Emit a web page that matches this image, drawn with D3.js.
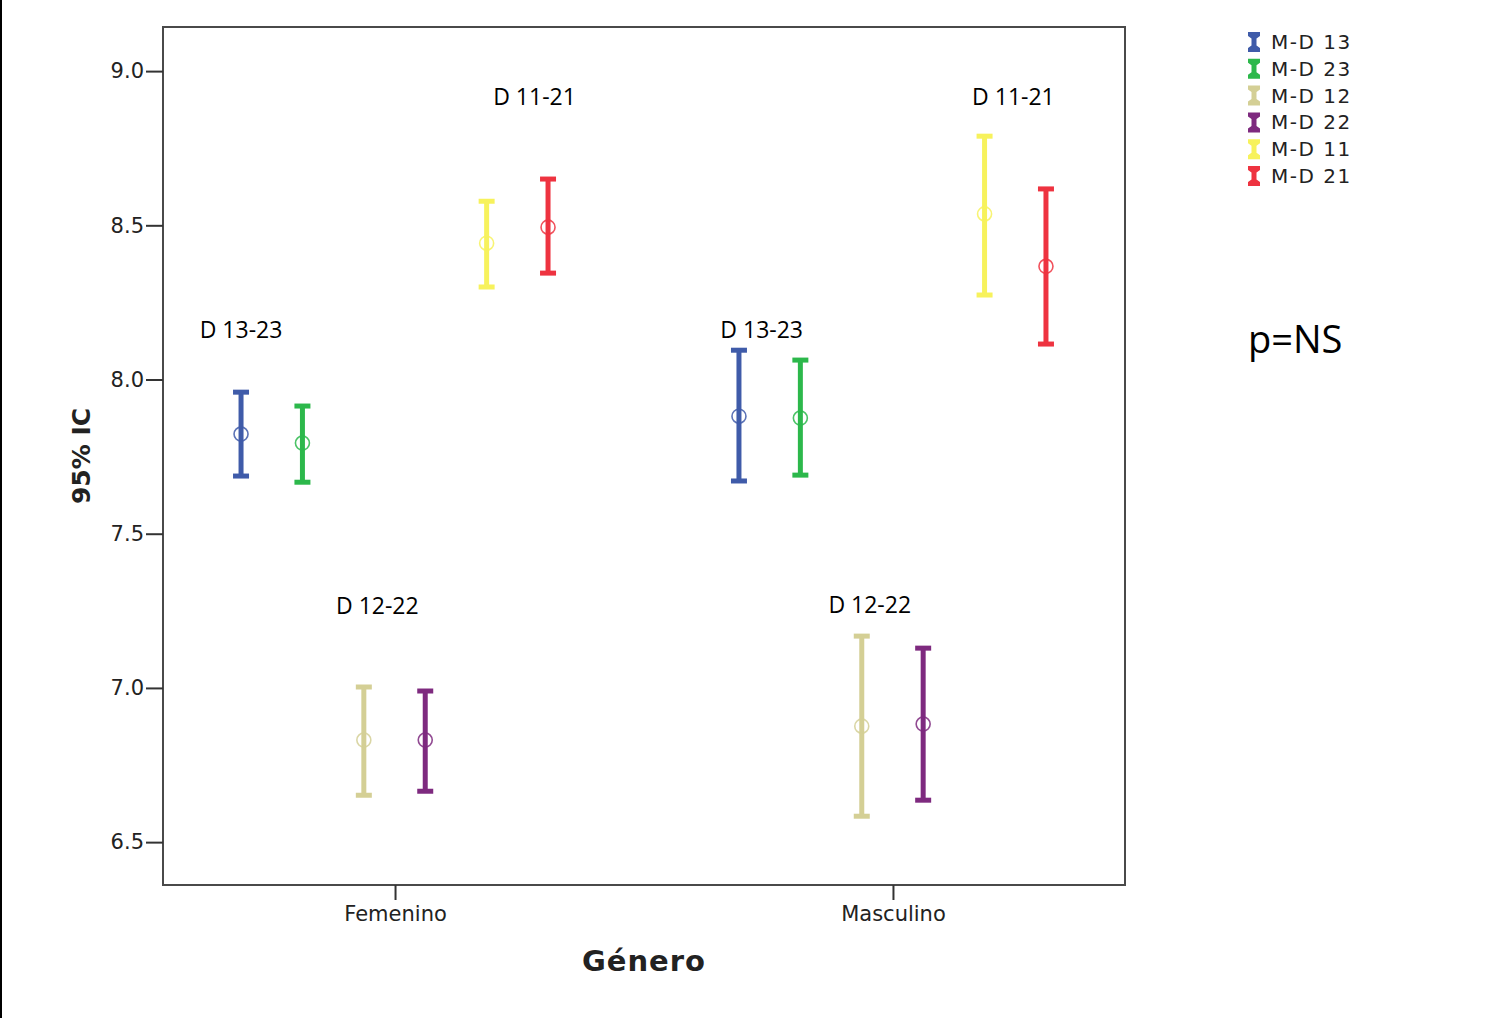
<!DOCTYPE html>
<html><head><meta charset="utf-8">
<script src="https://cdn.jsdelivr.net/npm/d3@7"></script>
<style>html,body{margin:0;padding:0;background:#fff;}svg{display:block;}</style>
</head><body>
<svg id="chart" width="1500" height="1018"></svg>
<script>
const categories = ["Femenino", "Masculino"];
const series = ["M-D 13", "M-D 23", "M-D 12", "M-D 22", "M-D 11", "M-D 21"];
const colors = ["#3f5ba9", "#2cb84b", "#d4cf95", "#7e2a7f", "#f7f25c", "#ee3340"];
// mean, lower, upper per series for each category
const meansFem = [7.823, 7.794, 6.831, 6.831, 8.442, 8.494];
const lowFem   = [7.687, 7.667, 6.652, 6.665, 8.300, 8.345];
const highFem  = [7.959, 7.914, 7.003, 6.990, 8.578, 8.650];
const meansMas = [7.881, 7.875, 6.876, 6.883, 8.537, 8.367];
const lowMas   = [7.671, 7.690, 6.584, 6.636, 8.274, 8.115];
const highMas  = [8.095, 8.063, 7.168, 7.129, 8.789, 8.618];
const yTicks = [6.5, 7.0, 7.5, 8.0, 8.5, 9.0];
const annotText = ["D 13-23", "D 12-22", "D 11-21", "D 13-23", "D 12-22", "D 11-21"];
const annotCat  = ["Femenino", "Femenino", "Femenino", "Masculino", "Masculino", "Masculino"];
const annotPos  = [0, 2.22, 4.78, 0.37, 2.13, 4.47];   // in series-slot units
const annotVal  = [8.16, 7.265, 8.915, 8.16, 7.27, 8.915];

(function () {
const svg = d3.select("#chart");
const pL = 163, pR = 1125, pT = 27, pB = 885;
const tickFont = "DejaVu Sans, Verdana, sans-serif";

const x = d3.scalePoint().domain(categories).range([pL, pR]).padding(0.466);
const slot = d3.scaleLinear().domain([0, series.length - 1]).range([-154, 153]);
const y = d3.scaleLinear().domain([6.361, 9.143]).range([pB, pT]);

// left edge line
svg.append("line").attr("x1", 1).attr("x2", 1).attr("y1", 0).attr("y2", 1018)
  .attr("stroke", "#000").attr("stroke-width", 2);

// frame
svg.append("rect").attr("x", pL).attr("y", pT).attr("width", pR - pL).attr("height", pB - pT)
  .attr("fill", "#fff").attr("stroke", "#4a4a4a").attr("stroke-width", 2);

// y axis
const yAxis = d3.axisLeft(y).tickValues(yTicks).tickFormat(d3.format(".1f")).tickSize(17).tickPadding(2);
const gy = svg.append("g").attr("transform", `translate(${pL},0)`).call(yAxis);
gy.select(".domain").remove();
gy.selectAll(".tick line").attr("stroke", "#333").attr("stroke-width", 2);
gy.selectAll(".tick text").attr("font-family", tickFont).attr("font-size", 21).attr("fill", "#222");

// x axis
const xAxis = d3.axisBottom(x).tickSize(15).tickPadding(6);
const gx = svg.append("g").attr("transform", `translate(0,${pB})`).call(xAxis);
gx.select(".domain").remove();
gx.selectAll(".tick line").attr("stroke", "#333").attr("stroke-width", 2);
gx.selectAll(".tick text").attr("font-family", tickFont).attr("font-size", 21).attr("fill", "#222");

// axis titles
svg.append("text").attr("x", (pL + pR) / 2).attr("y", 971).attr("text-anchor", "middle")
  .attr("font-family", tickFont).attr("font-weight", "bold").attr("font-size", 29)
  .attr("letter-spacing", 1).attr("fill", "#222").text("Género");
svg.append("text").attr("transform", `translate(90,${(pT + pB) / 2}) rotate(-90)`).attr("text-anchor", "middle")
  .attr("font-family", tickFont).attr("font-weight", "bold").attr("font-size", 25)
  .attr("fill", "#222").text("95% IC");

// error bars
const groups = [
  { cat: "Femenino", m: meansFem, lo: lowFem, hi: highFem },
  { cat: "Masculino", m: meansMas, lo: lowMas, hi: highMas }
];
const capW = 8;
groups.forEach(g => {
  series.forEach((s, i) => {
    const cx = x(g.cat) + slot(i);
    const c = colors[i];
    const e = svg.append("g");
    e.append("line").attr("x1", cx).attr("x2", cx).attr("y1", y(g.hi[i])).attr("y2", y(g.lo[i]))
      .attr("stroke", c).attr("stroke-width", 5);
    [g.hi[i], g.lo[i]].forEach(v => {
      e.append("line").attr("x1", cx - capW).attr("x2", cx + capW).attr("y1", y(v)).attr("y2", y(v))
        .attr("stroke", c).attr("stroke-width", 5);
    });
    e.append("circle").attr("cx", cx).attr("cy", y(g.m[i])).attr("r", 7)
      .attr("fill", "none").attr("stroke", c).attr("stroke-width", 1.6).attr("opacity", 0.85);
  });
});

// annotations
annotText.forEach((t, i) => {
  svg.append("text").attr("x", x(annotCat[i]) + slot(annotPos[i])).attr("y", y(annotVal[i]) + 8)
    .attr("text-anchor", "middle").attr("font-family", "Open Sans, DejaVu Sans, sans-serif")
    .attr("font-size", 23).attr("fill", "#000").text(t);
});

// legend
const leg = svg.append("g").attr("transform", "translate(1254,42)");
series.forEach((s, i) => {
  const gy0 = i * 26.8;
  const c = colors[i];
  const lg = leg.append("g").attr("transform", `translate(0,${gy0})`);
  lg.append("path").attr("d", "M-6,-10 H6 V-6 L2.5,-3.5 V3.5 L6,6 V10 H-6 V6 L-2.5,3.5 V-3.5 L-6,-6 Z").attr("fill", c);
  lg.append("text").attr("x", 17).attr("y", 7).attr("font-family", tickFont)
    .attr("font-size", 20).attr("letter-spacing", 1.5).attr("fill", "#222").text(s);
});

// p=NS
svg.append("text").attr("x", 1248).attr("y", 353).attr("font-family", "Open Sans, DejaVu Sans, sans-serif")
  .attr("font-size", 38).attr("fill", "#000").text("p=NS");
})();
</script>
</body></html>
